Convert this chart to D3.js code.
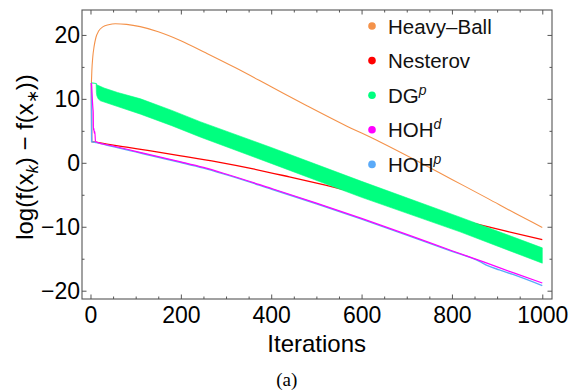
<!DOCTYPE html>
<html>
<head>
<meta charset="utf-8">
<script src="https://cdn.jsdelivr.net/npm/d3@7"></script>
<style>
  body { margin: 0; background: #fff; }
  svg { display: block; font-family: "Liberation Sans", Arial, sans-serif; }
</style>
</head>
<body>
<svg id="chart"></svg>
<script>
// values: [iteration, log(f(x_k) - f(x_*))]
const heavyBall = [[2,12.5],[3,14.4],[5,16.5],[8,18.2],[12,19.6],[18,20.6],[28,21.3],[40,21.6],[55,21.75],[80,21.65],[110,21.3],[150,20.5],[200,19.1],[255,17.2],[320,14.9],[400,11.9],[480,8.9],[560,6.0],[640,3.3],[720,0.4],[800,-2.6],[880,-5.6],[940,-7.9],[1000,-10.1]];
const nesterov = [[2,12.5],[2.6,3.3],[15,3.2],[40,2.9],[80,2.45],[130,1.9],[200,1.1],[280,0.15],[360,-0.95],[440,-2.2],[520,-3.5],[600,-4.9],[680,-6.35],[760,-7.8],[840,-9.3],[920,-10.7],[1000,-12.0]];
const dgUpper = [[2,12.5],[13,12.4],[14,12.2],[30,11.7],[60,11.0],[111,10.0],[180,8.2],[244,6.4],[400,2.4],[600,-2.9],[818,-8.5],[1000,-13.3]];
const dgLower = [[2,12.5],[12.5,12.4],[13,11.0],[14,10.5],[17,10.0],[22,9.7],[60,8.8],[111,7.6],[180,5.8],[244,4.0],[400,-0.1],[600,-5.4],[818,-10.8],[1000,-15.7]];
const hohD = [[2,12.5],[5.5,8.4],[6,8.0],[6.5,5.1],[7.5,5.4],[8.5,4.6],[9.5,4.9],[11,3.4],[13,3.25],[50,2.63],[100,1.8],[150,0.97],[200,0.15],[250,-0.72],[300,-1.75],[400,-4.0],[500,-6.3],[600,-8.7],[700,-11.2],[800,-13.75],[870,-15.5],[940,-17.3],[1000,-18.8]];
const hohP = [[2,12.5],[2.5,3.3],[13,3.15],[50,2.53],[100,1.7],[150,0.87],[200,0.05],[250,-0.82],[300,-1.85],[400,-4.1],[500,-6.4],[600,-8.8],[700,-11.3],[800,-13.85],[862,-15.45],[875,-15.95],[905,-16.75],[935,-17.45],[1000,-19.2]];

const xTicks = [0, 200, 400, 600, 800, 1000];
const yTicks = [-20, -10, 0, 10, 20];
const legendNames = ["Heavy\u2013Ball", "Nesterov", "DG", "HOH", "HOH"];
const legendSups = ["", "", "p", "d", "p"];
const colors = ["#f4924a", "#ff0000", "#00ff7f", "#ff00ff", "#5aaaf8"];

const W = 578, H = 391;
const margin = { top: 10, right: 26, bottom: 92, left: 82 };
const width = W - margin.left - margin.right;
const height = H - margin.top - margin.bottom;

const svg = d3.select("#chart").attr("width", W).attr("height", H);
const g = svg.append("g").attr("transform", `translate(${margin.left},${margin.top})`);

const x = d3.scaleLinear().domain([-18.8, 1021.5]).range([0, width]);
const y = d3.scaleLinear().domain([-21.3, 23.9]).range([height, 0]);

// clip to plot area
g.append("clipPath").attr("id", "clip")
  .append("rect").attr("width", width).attr("height", height);
const plot = g.append("g").attr("clip-path", "url(#clip)");

const line = d3.line().x(d => x(d[0])).y(d => y(d[1])).curve(d3.curveMonotoneX);
const band = d3.line().x(d => x(d[0])).y(d => y(d[1]));

plot.append("path").datum(heavyBall)
  .attr("d", line).attr("fill", "none").attr("stroke", colors[0]).attr("stroke-width", 1.1);
plot.append("path").datum(nesterov)
  .attr("d", line).attr("fill", "none").attr("stroke", colors[1]).attr("stroke-width", 1.3);
plot.append("path")
  .attr("d", band(dgUpper.concat(dgLower.slice().reverse())) + "Z")
  .attr("fill", colors[2]).attr("stroke", colors[2]).attr("stroke-width", 0.6);
plot.append("path").datum(hohP)
  .attr("d", line).attr("fill", "none").attr("stroke", colors[4]).attr("stroke-width", 1.4);
plot.append("path").datum(hohD)
  .attr("d", line).attr("fill", "none").attr("stroke", colors[3]).attr("stroke-width", 1.2);

// axes, ticks pointing inward on all four sides
const frameColor = "#555";
function styleAxis(sel) {
  sel.select(".domain").remove();
  sel.selectAll(".tick line").attr("stroke", frameColor);
  sel.selectAll("text").attr("fill", "#000").attr("font-size", 23)
    .attr("font-family", "'Liberation Sans', Arial, sans-serif");
}
const minorX = d3.range(0, 1001, 50).filter(v => v % 200 !== 0);
const minorY = d3.range(-20, 21, 5).filter(v => v % 10 !== 0);

g.append("g").attr("transform", `translate(0,${height})`)
  .call(d3.axisBottom(x).tickValues(xTicks).tickSize(-4.5).tickPadding(8).tickFormat(d3.format("d")))
  .call(styleAxis);
g.append("g").attr("transform", `translate(0,${height})`)
  .call(d3.axisBottom(x).tickValues(minorX).tickSize(-2.5).tickFormat(""))
  .call(styleAxis);
g.append("g")
  .call(d3.axisTop(x).tickValues(xTicks).tickSize(-4.5).tickFormat(""))
  .call(styleAxis);
g.append("g")
  .call(d3.axisTop(x).tickValues(minorX).tickSize(-2.5).tickFormat(""))
  .call(styleAxis);

g.append("g")
  .call(d3.axisLeft(y).tickValues(yTicks).tickSize(-4.5).tickPadding(2)
    .tickFormat(d => d < 0 ? "\u2212" + Math.abs(d) : d))
  .call(styleAxis);
g.append("g")
  .call(d3.axisLeft(y).tickValues(minorY).tickSize(-2.5).tickFormat(""))
  .call(styleAxis);
g.append("g").attr("transform", `translate(${width},0)`)
  .call(d3.axisRight(y).tickValues(yTicks).tickSize(-4.5).tickFormat(""))
  .call(styleAxis);
g.append("g").attr("transform", `translate(${width},0)`)
  .call(d3.axisRight(y).tickValues(minorY).tickSize(-2.5).tickFormat(""))
  .call(styleAxis);

g.append("rect").attr("width", width).attr("height", height)
  .attr("fill", "none").attr("stroke", frameColor).attr("stroke-width", 1.1);

// legend
const leg = g.append("g");
legendNames.forEach((name, i) => {
  const ly = 16 + i * 34.6;
  leg.append("circle").attr("cx", 290).attr("cy", ly).attr("r", 3.8).attr("fill", colors[i]);
  const t = leg.append("text").attr("x", 306).attr("y", ly + 7.5)
    .attr("font-size", 20.5).attr("fill", "#111").text(name);
  if (legendSups[i]) {
    t.append("tspan").attr("dy", -8).attr("font-size", 14).attr("font-style", "italic")
      .text(legendSups[i]);
  }
});

// axis titles
svg.append("text").attr("x", 316.7).attr("y", 351.5).attr("text-anchor", "middle")
  .attr("font-size", 24).text("Iterations");

const yt = svg.append("text").attr("transform", "translate(33,157) rotate(-90)")
  .attr("text-anchor", "middle").attr("font-size", 24);
yt.append("tspan").text("log(f(x");
yt.append("tspan").attr("dy", 5).attr("font-size", 16).attr("font-style", "italic").text("k");
yt.append("tspan").attr("dy", -5).text(") \u2212 f(x");
yt.append("tspan").attr("dy", 5).attr("font-size", 16).text("\u2217");
yt.append("tspan").attr("dy", -5).text("))");

svg.append("text").attr("x", 286.7).attr("y", 386).attr("text-anchor", "middle")
  .attr("font-family", "'Liberation Serif', 'Times New Roman', serif")
  .attr("font-size", 19).text("(a)");
</script>
</body>
</html>
